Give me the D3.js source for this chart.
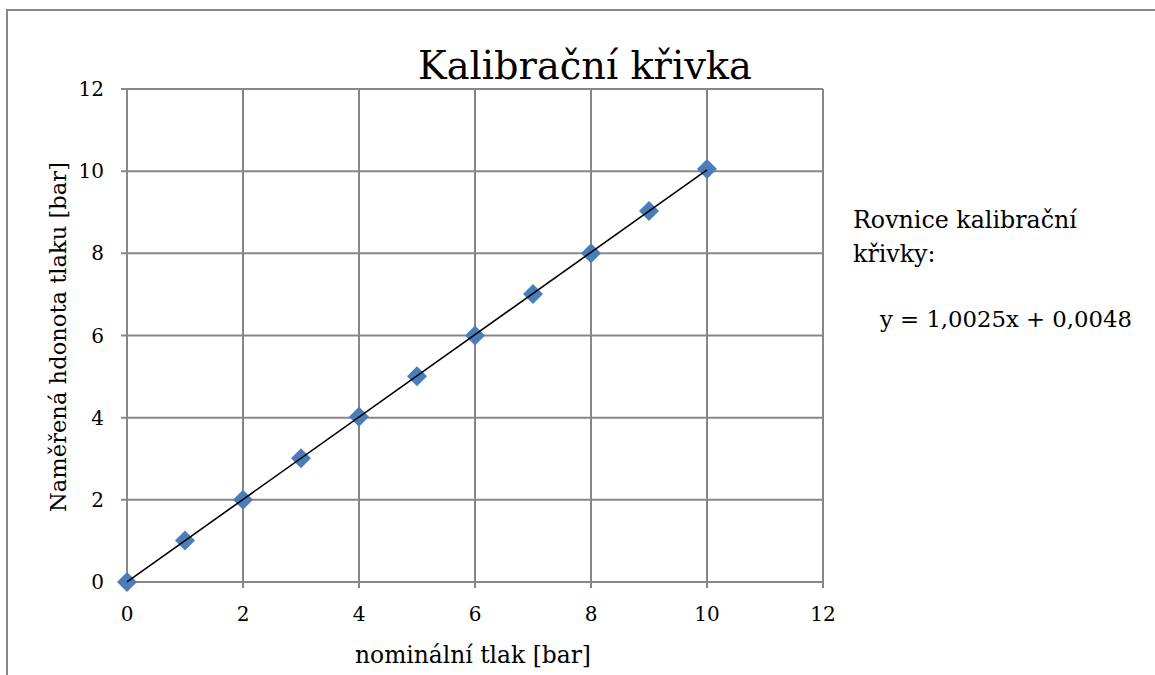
<!DOCTYPE html>
<html><head><meta charset="utf-8">
<script src="https://cdn.jsdelivr.net/npm/d3@7"></script>
<style>body{margin:0;background:#fff}svg{display:block}</style>
</head><body><svg id="c" width="1155" height="675"></svg>
<script>
const nominal = [0,1,2,3,4,5,6,7,8,9,10];
const measured = [0,1.01,2.0,3.01,4.02,5.01,6.0,7.01,8.0,9.03,10.05];
const xTicks = [0,2,4,6,8,10,12];
const yTicks = [0,2,4,6,8,10,12];
const slope = 1.0025, intercept = 0.0048;
const title = "Kalibrační křivka";
const xTitle = "nominální tlak [bar]";
const yTitle = "Naměřená hdonota tlaku [bar]";
const noteLines = ["Rovnice kalibrační","křivky:"];
const eqText = "y = 1,0025x + 0,0048";

const FF = "'DejaVu Serif', serif";
const svg = d3.select("#c");
svg.append("rect").attr("x",7).attr("y",10).attr("width",1160).attr("height",680)
  .attr("fill","#fff").attr("stroke","#878787").attr("stroke-width",2);

const L=127,R=823,T=89,B=582;
const x = d3.scaleLinear().domain([0,12]).range([L,R]);
const y = d3.scaleLinear().domain([0,12]).range([B,T]);
const gc="#878787";
svg.append("g").selectAll("line").data(xTicks).join("line")
  .attr("x1",d=>x(d)).attr("x2",d=>x(d)).attr("y1",T).attr("y2",B+6)
  .attr("stroke",gc).attr("stroke-width",2);
svg.append("g").selectAll("line").data(yTicks).join("line")
  .attr("x1",L-6).attr("x2",R).attr("y1",d=>y(d)).attr("y2",d=>y(d))
  .attr("stroke",gc).attr("stroke-width",2);
function txt(sel,size){ return sel.style("font-family",FF).attr("fill","#000").attr("font-size",size); }
// scale font size so the text spans the given width
function fit(sel,width){
  sel.each(function(){
    const fs = +this.getAttribute("font-size");
    const w = this.getComputedTextLength();
    if(w>0) this.setAttribute("font-size", (fs*width/w).toFixed(2));
  });
  return sel;
}
txt(svg.append("g").selectAll("text").data(yTicks).join("text")
  .attr("x",L-23).attr("y",d=>y(d)+7).attr("text-anchor","end").text(d=>d),20);
txt(svg.append("g").selectAll("text").data(xTicks).join("text")
  .attr("x",d=>x(d)).attr("y",B+39).attr("text-anchor","middle").text(d=>d),20);
const sym = d3.symbol().type(d3.symbolSquare).size(200);
svg.append("g").selectAll("path").data(nominal).join("path")
  .attr("d",sym).attr("fill","#4a7ebb")
  .attr("transform",(d,i)=>`translate(${x(d)},${y(measured[i])}) rotate(45)`);
svg.append("line").attr("x1",x(0)).attr("y1",y(intercept)).attr("x2",x(10)).attr("y2",y(slope*10+intercept))
  .attr("stroke","#000").attr("stroke-width",1.6);
fit(txt(svg.append("text").attr("x",585).attr("y",79).attr("text-anchor","middle").text(title),36),334);
fit(txt(svg.append("text").attr("x",473).attr("y",663).attr("text-anchor","middle").text(xTitle),22),236);
fit(txt(svg.append("text").attr("transform",`translate(66,337) rotate(-90)`).attr("text-anchor","middle").text(yTitle),22),350);
const nt = txt(svg.append("g").selectAll("text").data(noteLines).join("text")
  .attr("x",853).attr("y",(d,i)=>228+i*34).text(d=>d),22);
fit(nt.filter((d,i)=>i===0),224);
nt.filter((d,i)=>i===1).attr("font-size",nt.filter((d,i)=>i===0).attr("font-size"));
fit(txt(svg.append("text").attr("x",880).attr("y",327).text(eqText),22),252);
</script></body></html>
